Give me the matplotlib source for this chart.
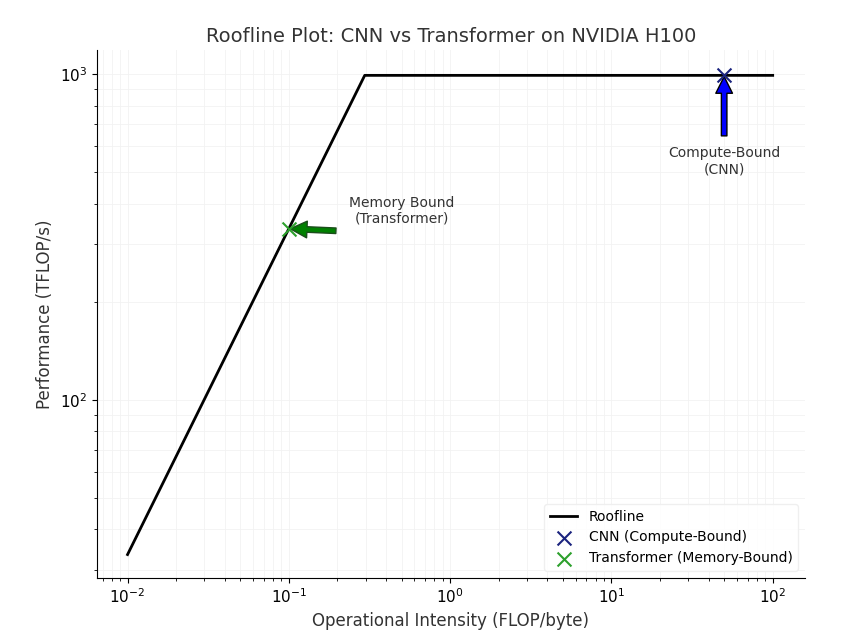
import numpy as np
import matplotlib
matplotlib.use("Agg")
import matplotlib.pyplot as plt

peak = 990.0
bandwidth = 3350.0
roof_x = [0.01, peak / bandwidth, 100]
roof_y = [0.01 * bandwidth, peak, peak]
cnn_x, cnn_y = [50], [990]
tr_x, tr_y = [0.1], [335]

fig = plt.figure(figsize=(8.5, 6.4), dpi=100)
ax = fig.add_axes([0.114, 0.097, 0.833, 0.825])
ax.plot(roof_x, roof_y, color='black', lw=2, label='Roofline')
ax.scatter(cnn_x, cnn_y, marker='x', s=100, color='#1a237e', label='CNN (Compute-Bound)', zorder=5)
ax.scatter(tr_x, tr_y, marker='x', s=100, color='#2ca02c', label='Transformer (Memory-Bound)', zorder=5)
ax.set_xscale('log'); ax.set_yscale('log')
ax.set_xlim(10**-2.19, 10**2.2)
ax.set_ylim(28.4, 1185)
ax.grid(True, which='both', color='#f2f2f2', lw=0.6)
for s in ['top', 'right']:
    ax.spines[s].set_visible(False)

ax.annotate('', xy=(cnn_x[0], cnn_y[0]), xytext=(cnn_x[0], 640),
            arrowprops=dict(facecolor='blue', edgecolor='black', width=4, headwidth=12, headlength=12, shrink=0.02))
ax.text(cnn_x[0], 600, 'Compute-Bound\n(CNN)', ha='center', va='top', fontsize=10, color='#333333')
ax.annotate('', xy=(tr_x[0], tr_y[0]), xytext=(0.2, 330),
            arrowprops=dict(facecolor='green', edgecolor='#1b4d1b', width=4, headwidth=12, headlength=12, shrink=0.03))
ax.text(0.5, 380, 'Memory Bound\n(Transformer)', ha='center', va='center', fontsize=10, color='#333333')

ax.set_title('Roofline Plot: CNN vs Transformer on NVIDIA H100', fontsize=14, color='#333333')
ax.set_xlabel('Operational Intensity (FLOP/byte)', fontsize=12, color='#333333')
ax.set_ylabel('Performance (TFLOP/s)', fontsize=12, color='#333333')
ax.tick_params(labelsize=11)
ax.legend(loc='lower right', fontsize=10, framealpha=0.9, edgecolor='#eeeeee')
fig.savefig('out.png', dpi=100)
